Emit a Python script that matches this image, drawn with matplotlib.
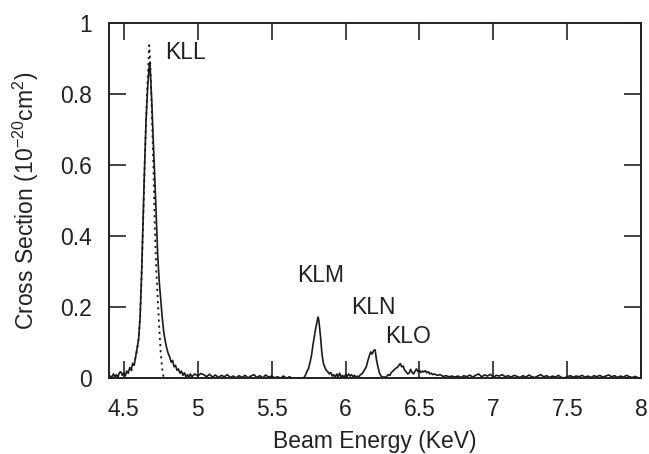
import matplotlib
matplotlib.use("Agg")
import matplotlib.pyplot as plt

plt.rcParams['font.family'] = ['Liberation Sans', 'DejaVu Sans']
plt.rcParams['mathtext.fontset'] = 'custom'
plt.rcParams['mathtext.rm'] = 'Liberation Sans'
plt.rcParams['mathtext.it'] = 'Liberation Sans'

# Measured spectrum (solid line)
energy = [
    4.40, 4.41, 4.42, 4.43, 4.44, 4.45, 4.46, 4.47, 4.48, 4.49,
    4.50, 4.51, 4.52, 4.53, 4.54, 4.55, 4.56, 4.57, 4.58, 4.59,
    4.60, 4.61, 4.62, 4.63, 4.64, 4.65, 4.66, 4.67, 4.675, 4.68,
    4.69, 4.70, 4.71, 4.72, 4.73, 4.74, 4.75, 4.76, 4.77, 4.78,
    4.79, 4.80, 4.81, 4.82, 4.83, 4.84, 4.85, 4.86, 4.87, 4.88,
    4.89, 4.90, 4.91, 4.92, 4.93, 4.94, 4.95, 4.96, 4.98, 5.00,
    5.02, 5.04, 5.06, 5.08, 5.10, 5.12, 5.14, 5.16, 5.18, 5.20,
    5.22, 5.24, 5.26, 5.28, 5.30, 5.32, 5.34, 5.36, 5.38, 5.40,
    5.42, 5.44, 5.46, 5.48, 5.50, 5.52, 5.54, 5.56, 5.58, 5.60,
    5.62, 5.64, 5.70, 5.72, 5.73, 5.74, 5.75, 5.76, 5.77, 5.78,
    5.79, 5.80, 5.81, 5.815, 5.82, 5.83, 5.84, 5.85, 5.86, 5.87,
    5.88, 5.89, 5.90, 5.91, 5.92, 5.93, 5.94, 5.95, 5.96, 5.97,
    5.98, 5.99, 6.00, 6.01, 6.02, 6.03, 6.04, 6.05, 6.06, 6.07,
    6.08, 6.09, 6.10, 6.11, 6.12, 6.13, 6.14, 6.15, 6.16, 6.17,
    6.18, 6.19, 6.20, 6.21, 6.22, 6.23, 6.24, 6.25, 6.26, 6.27,
    6.28, 6.29, 6.30, 6.31, 6.32, 6.33, 6.34, 6.35, 6.36, 6.37,
    6.38, 6.39, 6.40, 6.41, 6.42, 6.43, 6.44, 6.45, 6.46, 6.47,
    6.48, 6.49, 6.50, 6.51, 6.52, 6.53, 6.54, 6.55, 6.56, 6.57,
    6.58, 6.59, 6.60, 6.62, 6.64, 6.66, 6.68, 6.70, 6.72, 6.74,
    6.76, 6.78, 6.80, 6.82, 6.84, 6.86, 6.88, 6.90, 6.92, 6.94,
    6.96, 6.98, 7.00, 7.02, 7.04, 7.06, 7.08, 7.10, 7.12, 7.14,
    7.16, 7.18, 7.20, 7.22, 7.24, 7.26, 7.28, 7.30, 7.32, 7.34,
    7.36, 7.38, 7.40, 7.42, 7.44, 7.46, 7.48, 7.50, 7.52, 7.54,
    7.56, 7.58, 7.60, 7.62, 7.64, 7.66, 7.68, 7.70, 7.72, 7.74,
    7.76, 7.78, 7.80, 7.82, 7.84, 7.86, 7.88, 7.90, 7.92, 7.94,
    7.96, 7.98, 8.00,
]
cross_section = [
    0.000, 0.006, 0.003, 0.012, 0.004, 0.010, 0.002, 0.016, 0.018, 0.008,
    0.015, 0.006, 0.020, 0.014, 0.030, 0.024, 0.042, 0.036, 0.060, 0.085,
    0.110, 0.170, 0.290, 0.440, 0.590, 0.720, 0.810, 0.870, 0.890, 0.860,
    0.770, 0.660, 0.560, 0.450, 0.340, 0.270, 0.220, 0.170, 0.130, 0.105,
    0.085, 0.070, 0.060, 0.045, 0.050, 0.032, 0.036, 0.022, 0.026, 0.014,
    0.020, 0.008, 0.015, 0.004, 0.010, 0.002, 0.012, 0.004, 0.012, 0.006,
    0.013, 0.010, 0.004, 0.011, 0.003, 0.009, 0.002, 0.008, 0.004, 0.010,
    0.002, 0.006, 0.001, 0.007, 0.002, 0.008, 0.001, 0.006, 0.010, 0.002,
    0.007, 0.001, 0.009, 0.003, 0.006, 0.001, 0.004, 0.000, 0.006, 0.000,
    0.004, 0.000, 0.000, 0.002, 0.010, 0.020, 0.028, 0.045, 0.065, 0.095,
    0.120, 0.145, 0.165, 0.172, 0.160, 0.120, 0.070, 0.042, 0.030, 0.022,
    0.018, 0.012, 0.016, 0.006, 0.010, 0.002, 0.012, 0.004, 0.014, 0.003,
    0.008, 0.002, 0.010, 0.004, 0.012, 0.006, 0.010, 0.004, 0.008, 0.002,
    0.006, 0.003, 0.010, 0.012, 0.018, 0.025, 0.032, 0.048, 0.062, 0.074,
    0.068, 0.078, 0.080, 0.050, 0.030, 0.014, 0.006, 0.002, 0.004, 0.001,
    0.006, 0.010, 0.008, 0.016, 0.020, 0.024, 0.028, 0.030, 0.036, 0.041,
    0.032, 0.034, 0.022, 0.018, 0.012, 0.014, 0.025, 0.016, 0.012, 0.020,
    0.026, 0.018, 0.022, 0.016, 0.020, 0.018, 0.021, 0.015, 0.018, 0.012,
    0.014, 0.010, 0.012, 0.008, 0.010, 0.005, 0.007, 0.004, 0.006, 0.003,
    0.006, 0.002, 0.007, 0.004, 0.009, 0.003, 0.008, 0.012, 0.004, 0.009,
    0.006, 0.011, 0.003, 0.008, 0.006, 0.010, 0.004, 0.007, 0.003, 0.008,
    0.005, 0.002, 0.007, 0.003, 0.009, 0.004, 0.002, 0.006, 0.010, 0.004,
    0.007, 0.002, 0.006, 0.003, 0.008, 0.002, 0.001, 0.004, 0.007, 0.003,
    0.006, 0.004, 0.008, 0.003, 0.006, 0.002, 0.007, 0.004, 0.008, 0.003,
    0.006, 0.009, 0.004, 0.007, 0.002, 0.006, 0.003, 0.008, 0.004, 0.002,
    0.005, 0.001, 0.000,
]

# Fitted KLL peak (dotted line)
fit_energy = [4.55, 4.57, 4.59, 4.60, 4.61, 4.62, 4.63, 4.64, 4.65, 4.66,
              4.67, 4.672, 4.68, 4.69, 4.70, 4.71, 4.72, 4.73, 4.74, 4.75,
              4.76, 4.77]
fit_cross_section = [0.020, 0.040, 0.080, 0.110, 0.170, 0.280, 0.430, 0.580, 0.720, 0.830,
                     0.920, 0.938, 0.880, 0.740, 0.600, 0.420, 0.300, 0.220, 0.140, 0.070,
                     0.025, 0.000]

peak_labels = ["KLL", "KLM", "KLN", "KLO"]
label_x = [4.78, 5.674, 6.037, 6.27]
label_y = [0.918, 0.29, 0.199, 0.117]

x_ticks = [4.5, 5, 5.5, 6, 6.5, 7, 7.5, 8]
x_ticklabels = ["4.5", "5", "5.5", "6", "6.5", "7", "7.5", "8"]
y_ticks = [0, 0.2, 0.4, 0.6, 0.8, 1]
y_ticklabels = ["0", "0.2", "0.4", "0.6", "0.8", "1"]

FS = 16.5
fig = plt.figure(figsize=(6.49, 4.54), dpi=100)
ax = fig.add_axes([0.168, 0.167, 0.820, 0.782])

ax.plot(energy, cross_section, color='#1a1a1a', lw=1.2)
ax.plot(fit_energy, fit_cross_section, color='#1a1a1a', lw=1.3, ls=(0, (1.2, 2.2)))

for lab, lx, ly in zip(peak_labels, label_x, label_y):
    ax.text(lx, ly, lab, fontsize=FS, ha='left', va='center', color='#222222')

ax.set_xlim(4.4, 8.0)
ax.set_ylim(0, 1)
ax.set_xticks(x_ticks)
ax.set_xticklabels(x_ticklabels)
ax.set_yticks(y_ticks)
ax.set_yticklabels(y_ticklabels)

ax.tick_params(axis='both', which='major', direction='in', length=12, width=1.2,
               top=True, right=True, labelsize=FS, colors='#222222')
ax.tick_params(axis='x', pad=14)
ax.tick_params(axis='y', pad=12)
for sp in ax.spines.values():
    sp.set_linewidth(1.4)
    sp.set_color('#222222')

ax.set_xlabel("Beam Energy (KeV)", fontsize=FS, color='#222222', labelpad=7)
ax.set_ylabel(r"Cross Section (10$^{-20}$cm$^{2}$)", fontsize=FS, color='#222222', labelpad=14)

fig.savefig("out.png", dpi=100)
